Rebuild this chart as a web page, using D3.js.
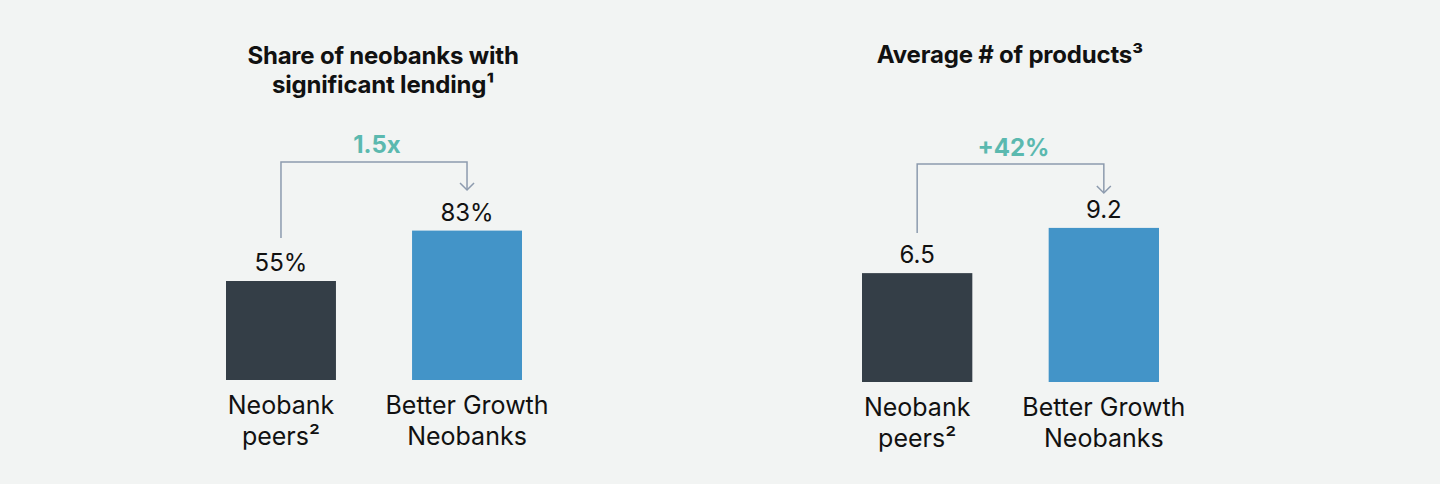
<!DOCTYPE html>
<html>
<head>
<meta charset="utf-8">
<script src="https://cdn.jsdelivr.net/npm/d3@7"></script>
<style>
  html, body { margin: 0; padding: 0; background: #f2f4f3; }
  svg { display: block; }
  text { font-family: Inter, "Noto Sans", sans-serif; }
</style>
</head>
<body>
<svg id="chart" width="1440" height="484"></svg>
<script>
// ---- data ----
const categoryLines = [["Neobank", "peers²"], ["Better Growth", "Neobanks"]];
const lendingValues = [55, 83];
const lendingLabels = ["55%", "83%"];
const productValues = [6.5, 9.2];
const productLabels = ["6.5", "9.2"];
const lendingTitle = ["Share of neobanks with", "significant lending¹"];
const productTitle = ["Average # of products³"];
const lendingChange = "1.5x";
const productChange = "+42%";

// ---- style / layout ----
const colors = ["#343e47", "#4394c8"];
const teal = "#5bb9af";
const bracketColor = "#8d9bae";

const svg = d3.select("#chart");
svg.append("rect").attr("width", 1440).attr("height", 484).attr("fill", "#f2f4f3");

const panels = [
  { values: lendingValues, labels: lendingLabels, title: lendingTitle, change: lendingChange,
    domain: [0, 100], yRange: [380, 200], xRange: [226, 522],
    titleX: 383, titleY: 64, bracketY: 162, leftEnd: 238, tipY: 190, changeY: 153 },
  { values: productValues, labels: productLabels, title: productTitle, change: productChange,
    domain: [0, 10], yRange: [382, 214.5], xRange: [862, 1159],
    titleX: 1010, titleY: 63, bracketY: 164, leftEnd: 233, tipY: 193, changeY: 156 }
];

panels.forEach(p => {
  const g = svg.append("g");
  const idx = d3.range(p.values.length);
  const x = d3.scaleBand().domain(idx).range(p.xRange).paddingInner(0.409).paddingOuter(0);
  const y = d3.scaleLinear().domain(p.domain).range(p.yRange);

  // title
  const t = g.append("text")
    .attr("x", p.titleX).attr("y", p.titleY)
    .attr("text-anchor", "middle")
    .attr("font-size", 24).attr("font-weight", 700).attr("fill", "#111")
    .attr("letter-spacing", -0.2);
  p.title.forEach((line, i) => {
    t.append("tspan").attr("x", p.titleX).attr("dy", i === 0 ? 0 : 29).text(line);
  });

  // bars
  g.selectAll("rect.bar").data(idx).join("rect")
    .attr("class", "bar")
    .attr("x", i => x(i))
    .attr("width", x.bandwidth())
    .attr("y", i => y(p.values[i]))
    .attr("height", i => y(0) - y(p.values[i]))
    .attr("fill", i => colors[i]);

  // value labels
  g.selectAll("text.val").data(idx).join("text")
    .attr("class", "val")
    .attr("x", i => x(i) + x.bandwidth() / 2)
    .attr("y", i => y(p.values[i]) - 10)
    .attr("text-anchor", "middle")
    .attr("font-size", 24).attr("fill", "#111")
    .text(i => p.labels[i]);

  // category labels
  g.selectAll("text.cat").data(idx).join("text")
    .attr("class", "cat")
    .attr("text-anchor", "middle")
    .attr("font-size", 25).attr("fill", "#111")
    .each(function(i) {
      const cx = x(i) + x.bandwidth() / 2;
      const el = d3.select(this).attr("x", cx).attr("y", y(0) + 34);
      categoryLines[i].forEach((line, j) => {
        el.append("tspan").attr("x", cx).attr("dy", j === 0 ? 0 : 31).text(line);
      });
    });

  // bracket
  const x0 = x(0) + x.bandwidth() / 2;
  const x1 = x(1) + x.bandwidth() / 2;
  g.append("path")
    .attr("d", `M${x0},${p.leftEnd}V${p.bracketY}H${x1}V${p.tipY}`)
    .attr("fill", "none").attr("stroke", bracketColor).attr("stroke-width", 1.5);
  g.append("path")
    .attr("d", `M${x1 - 7},${p.tipY - 7}L${x1},${p.tipY}L${x1 + 7},${p.tipY - 7}`)
    .attr("fill", "none").attr("stroke", bracketColor).attr("stroke-width", 1.5);

  g.append("text")
    .attr("x", (x0 + x1) / 2 + 3).attr("y", p.changeY)
    .attr("text-anchor", "middle")
    .attr("font-size", 24).attr("font-weight", 700).attr("fill", teal)
    .text(p.change);
});
</script>
</body>
</html>
